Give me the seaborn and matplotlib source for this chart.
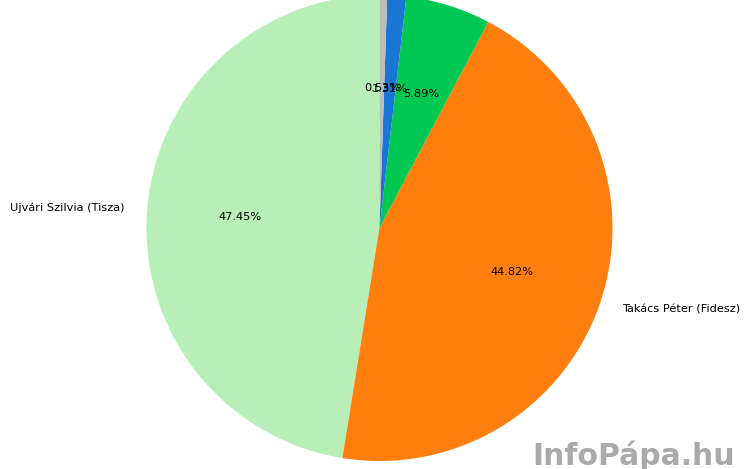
import matplotlib
matplotlib.use("Agg")
import matplotlib.pyplot as plt
import seaborn as sns

sns.set_style("white")

# candidates (counter-clockwise from the top)
labels = ["Ujvári Szilvia (Tisza)", "Takács Péter (Fidesz)", "", "", ""]
shares = [47.45, 44.82, 5.89, 1.31, 0.53]
colors = ["#b8eeb8", "#ff7f0e", "#00c853", "#1976d2", "#bdbdbd"]

fig = plt.figure(figsize=(7.5, 4.69), dpi=100)
ax = fig.add_axes([0, 0, 1, 1])

ax.pie(shares, labels=labels, colors=colors, autopct="%1.2f%%", startangle=90,
       wedgeprops={"linewidth": 0, "edgecolor": "none"},
       textprops={"fontsize": 8.2, "color": "black"})

# pie of radius 1 -> 233 px, centre at (379.5, 228) px from top-left
r = 233
ax.set_xlim(-379.5 / r, (750 - 379.5) / r)
ax.set_ylim(-(469 - 228) / r, 228 / r)
ax.set_aspect("auto")
ax.axis("off")

fig.text(0.98, 0.0085, "InfoPápa.hu", ha="right", va="baseline", fontsize=21.5,
         fontweight="bold", color="#aaaaaa")

fig.savefig("out.png", dpi=100)
